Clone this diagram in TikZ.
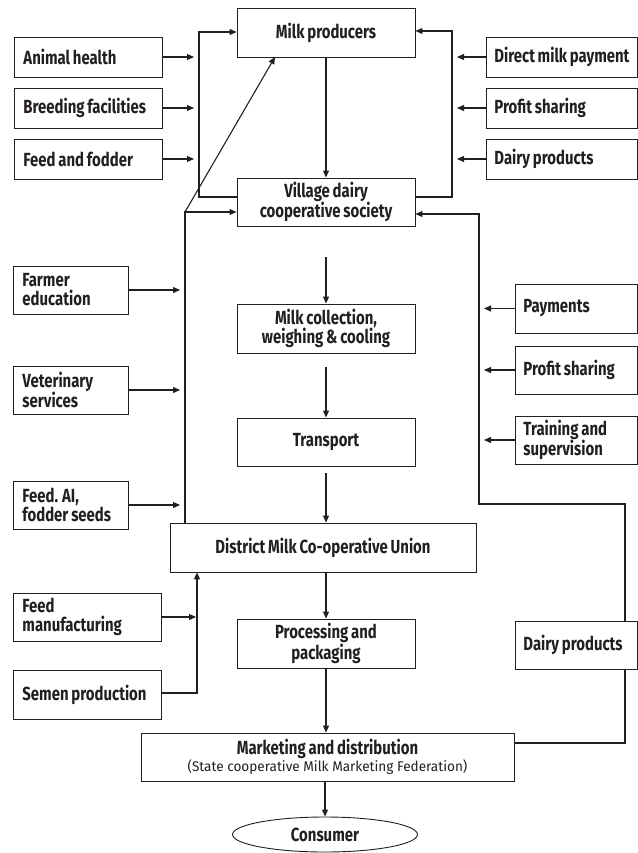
\documentclass[tikz,border=0pt]{standalone}
\usepackage{fontspec}
\setmainfont{Fira Sans}[FakeStretch=0.785, WordSpace=0.8]
\newfontfamily\subfont{Fira Sans}[FakeStretch=0.97]
\usetikzlibrary{arrows.meta,shapes.geometric}
\definecolor{ink}{HTML}{231F20}
\begin{document}
\begin{tikzpicture}[x=1pt,y=-1pt,
  every node/.style={text=ink},
  bx/.style={draw=ink, line width=0.9pt, inner sep=0pt, font=\bfseries\fontsize{19}{19}\selectfont},
  cbox/.style={bx, minimum width=178pt, minimum height=49pt, align=flush center},
  lbox/.style={bx, anchor=west, align=flush left, inner xsep=9pt, text width=#1},
  rbox/.style={bx, anchor=west, align=flush left, inner xsep=8pt, text width=#1},
  ln/.style={draw=ink, line width=1.1pt},
  arr/.style={ln, -{Triangle[length=7pt,width=6pt]}}
]
\useasboundingbox (0,0) rectangle (637,853);

% centre column
\node[cbox] (mp) at (326,32.5) {Milk producers};
\node[cbox, minimum height=48pt] (vd) at (326,202) {Village dairy\\cooperative society};
\node[cbox] (mc) at (326,328.5) {Milk collection,\\weighing \& cooling};
\node[cbox, minimum height=48pt] (tr) at (326,442) {Transport};
\node[cbox, minimum width=306pt] (du) at (323,547.5) {District Milk Co-operative Union};
\node[cbox] (pp) at (326,643.5) {Processing and\\packaging};
\node[cbox, minimum width=373pt, minimum height=48pt] (md) at (327.5,757) {Marketing and distribution\\[-2pt]{\subfont\mdseries\fontsize{14}{16}\selectfont(State cooperative Milk Marketing Federation)}};
\node[draw=ink, line width=0.9pt, ellipse, minimum width=185pt, minimum height=35pt, inner sep=0pt, font=\bfseries\fontsize{19}{19}\selectfont] (co) at (325,834.5) {Consumer};

% left boxes
\node[lbox=130pt, minimum height=40pt] (ah) at (14,57) {Animal health};
\node[lbox=130pt, minimum height=40pt] (bf) at (14,108) {Breeding facilities};
\node[lbox=130pt, minimum height=40pt] (ff) at (14,159) {Feed and fodder};
\node[lbox=97pt, minimum height=48pt] (fe) at (13,290) {Farmer\\education};
\node[lbox=97pt, minimum height=48pt] (vs) at (13,390) {Veterinary\\services};
\node[lbox=97pt, minimum height=48pt] (fa) at (13,505) {Feed. AI,\\fodder seeds};
\node[lbox=130pt, minimum height=48pt] (fm) at (13,617) {Feed\\manufacturing};
\node[lbox=130pt, minimum height=49pt] (sp) at (13,694.5) {Semen production};

% right boxes
\node[rbox=135pt, minimum height=40pt] (dm) at (486,57) {Direct milk payment};
\node[rbox=135pt, minimum height=40pt] (ps1) at (486,108) {Profit sharing};
\node[rbox=135pt, minimum height=40pt] (dp1) at (486,159) {Dairy products};
\node[rbox=106pt, minimum height=49pt] (pay) at (515,308.5) {Payments};
\node[rbox=106pt, minimum height=48pt] (ps2) at (515,370) {Profit sharing};
\node[rbox=106pt, minimum height=48pt] (ts) at (515,440) {Training and\\supervision};
\node[rbox=106pt, minimum height=48pt] (dp2) at (515,645) {Dairy products};

% coordinates
\coordinate (luB) at (199,197);
\coordinate (luT) at (199,32);
\coordinate (luTip) at (194,0);
\coordinate (ruB) at (452,197);
\coordinate (ruT) at (452,31);
\coordinate (ruTip) at (457,0);
\coordinate (llT) at (185,212);
\coordinate (llTip) at (180,0);
\coordinate (mpD) at (275,57);
\coordinate (rlA) at (625,743);
\coordinate (rlB) at (625,504);
\coordinate (rlC) at (479,504);
\coordinate (rlD) at (479,214);
\coordinate (rlTip) at (484,0);
\coordinate (lwV) at (197,693);
\coordinate (lwTip) at (196,0);
\coordinate (a1) at (326,257);
\coordinate (a2) at (326,367);
\coordinate (a3) at (326,473);

% upper left bus
\draw[arr] (luB -| vd.west) -- (luB) -- (luT) -- (luT -| mp.west);
\draw[arr] (ah.east) -- (ah.east -| luTip);
\draw[arr] (bf.east) -- (bf.east -| luTip);
\draw[arr] (ff.east) -- (ff.east -| luTip);

% upper right bus
\draw[arr] (ruB -| vd.east) -- (ruB) -- (ruT) -- (ruT -| mp.east);
\draw[arr] (dm.west) -- (dm.west -| ruTip);
\draw[arr] (ps1.west) -- (ps1.west -| ruTip);
\draw[arr] (dp1.west) -- (dp1.west -| ruTip);

% long left bus
\draw[arr] (llT |- du.north) -- (llT) -- (llT -| vd.west);
\draw[arr] (llT) -- (mpD);
\draw[arr] (fe.east) -- (fe.east -| llTip);
\draw[arr] (vs.east) -- (vs.east -| llTip);
\draw[arr] (fa.east) -- (fa.east -| llTip);

% long right bus
\draw[ln] (md.east |- rlA) -- (rlA) -- (dp2.south -| rlA);
\draw[arr] (dp2.north -| rlB) -- (rlB) -- (rlC) -- (rlD) -- (rlD -| vd.east);
\draw[arr] (pay.west) -- (pay.west -| rlTip);
\draw[arr] (ps2.west) -- (ps2.west -| rlTip);
\draw[arr] (ts.west) -- (ts.west -| rlTip);

% lower left
\draw[arr] (fm.east) -- (fm.east -| lwTip);
\draw[arr] (sp.east |- lwV) -- (lwV) -- (lwV |- du.south);

% centre flow
\draw[arr] (mp.south) -- (vd.north);
\draw[arr] (a1) -- (mc.north);
\draw[arr] (a2) -- (tr.north);
\draw[arr] (a3) -- (a3 |- du.north);
\draw[arr] (du.south -| pp.north) -- (pp.north);
\draw[arr] (pp.south) -- (pp.south |- md.north);
\draw[arr] (co.north |- md.south) -- (co.north);
\end{tikzpicture}
\end{document}
